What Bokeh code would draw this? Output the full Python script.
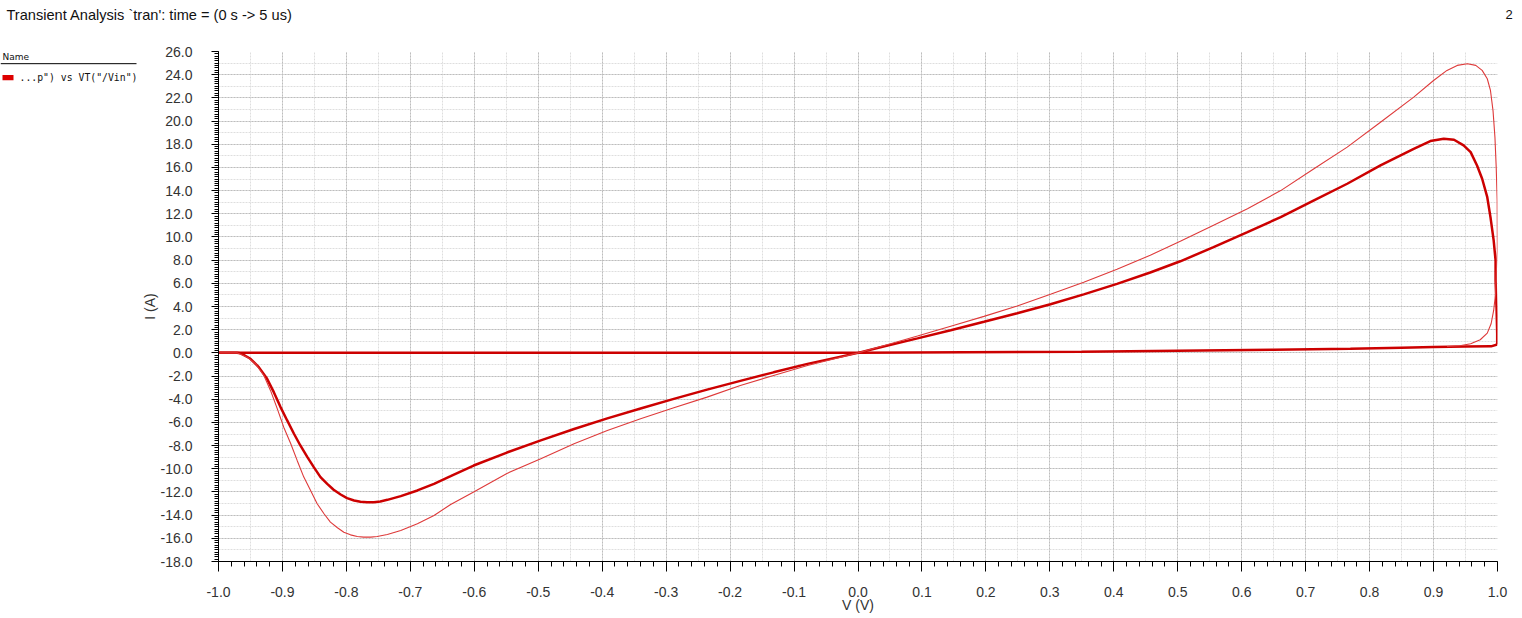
from bokeh.plotting import figure
from bokeh.layouts import column, row
from bokeh.models import FixedTicker, PrintfTickFormatter, Grid, Range1d
from bokeh.core.properties import value
from bokeh.embed import file_html
from bokeh.resources import INLINE

# ---------------- data ----------------
# off-state branch along the bottom (V, I)
base_v = [-1.0, -0.5, 0.0, 0.35, 0.5, 0.65, 0.77, 0.85, 0.90, 0.95, 0.99, 0.9995]
base_i = [0.0, 0.0, 0.02, 0.1, 0.18, 0.27, 0.35, 0.44, 0.5, 0.54, 0.56, 0.72]

# thick (dark) loop, from V=1 going up, round through the origin, to V=-1
thick_v = [0.9995, 0.9995, 0.9985, 0.997, 0.997, 0.994, 0.989, 0.984, 0.976, 0.968, 0.958,
           0.947, 0.932, 0.916, 0.895, 0.869, 0.817, 0.765, 0.713, 0.661, 0.609, 0.556,
           0.504, 0.457, 0.405, 0.353, 0.301, 0.249, 0.197, 0.145, 0.093, 0.040, 0.0,
           -0.079, -0.132, -0.184, -0.236, -0.288, -0.340, -0.392, -0.444, -0.496, -0.549,
           -0.601, -0.637, -0.663, -0.689, -0.715, -0.736, -0.747, -0.757, -0.7675, -0.778,
           -0.788, -0.799, -0.809, -0.820, -0.830, -0.8405, -0.851, -0.861, -0.872, -0.882,
           -0.8926, -0.903, -0.9135, -0.924, -0.937, -0.950, -0.9656, -0.971, -1.0]
thick_i = [0.72, 1.65, 3.94, 6.25, 7.97, 9.7, 11.71, 13.43, 15.02, 16.17, 17.32,
           17.9, 18.39, 18.47, 18.27, 17.6, 16.17, 14.59, 13.15, 11.71, 10.41, 9.12,
           7.9, 6.93, 5.95, 5.05, 4.2, 3.42, 2.68, 1.95, 1.25, 0.55, 0.0,
           -0.95, -1.68, -2.42, -3.17, -3.97, -4.8, -5.65, -6.57, -7.55, -8.6,
           -9.72, -10.64, -11.3, -11.87, -12.36, -12.68, -12.82, -12.88, -12.88, -12.85,
           -12.74, -12.53, -12.22, -11.81, -11.3, -10.72, -9.86, -9.0, -7.99, -6.98,
           -5.83, -4.68, -3.39, -2.24, -1.23, -0.51, -0.03, 0.0, 0.0]

# thin (light) loop, from V=-1 round through the origin to the bottom branch near V=1
thin_v = [-1.0, -0.971, -0.955, -0.942, -0.929, -0.9187, -0.908, -0.898, -0.887, -0.877,
          -0.8666, -0.856, -0.8457, -0.835, -0.825, -0.814, -0.804, -0.7936, -0.783, -0.773,
          -0.762, -0.752, -0.736, -0.715, -0.689, -0.663, -0.637, -0.601, -0.549, -0.496,
          -0.444, -0.392, -0.340, -0.288, -0.236, -0.184, -0.132, -0.079, 0.0, 0.040, 0.093,
          0.145, 0.197, 0.249, 0.301, 0.353, 0.405, 0.457, 0.504, 0.556, 0.609, 0.661, 0.713,
          0.765, 0.817, 0.869, 0.900, 0.921, 0.937, 0.953, 0.966, 0.976, 0.984, 0.989, 0.993,
          0.996, 0.998, 0.9995, 0.9998, 0.998, 0.997, 0.994, 0.990, 0.984, 0.973, 0.958,
          0.941, 0.921]
thin_i = [0.0, 0.0, -0.37, -0.94, -1.95, -3.24, -4.83, -6.41, -7.84, -9.28,
          -10.72, -11.87, -13.02, -13.88, -14.6, -15.09, -15.47, -15.7, -15.84, -15.9,
          -15.9, -15.84, -15.67, -15.32, -14.75, -14.03, -13.08, -12.0, -10.4, -9.14,
          -7.84, -6.7, -5.69, -4.74, -3.82, -2.81, -1.95, -1.09, 0.0, 0.62, 1.45,
          2.3, 3.15, 4.05, 5.05, 6.1, 7.22, 8.42, 9.62, 11.0, 12.43, 14.0, 15.88,
          17.75, 19.9, 22.06, 23.5, 24.37, 24.8, 24.94, 24.8, 24.37, 23.65, 22.64, 20.9,
          18.6, 16.0, 13.15, 8.8, 6.82, 5.1, 3.66, 2.51, 1.7, 1.13, 0.79,
          0.61, 0.55]

x_ticks = [round(-1.0 + 0.1 * k, 1) for k in range(21)]
x_minor = [round(-1.0 + 0.02 * k, 2) for k in range(101)]
x_grid_minor = [round(-1.0 + 0.05 * k, 2) for k in range(41)]
y_ticks = [float(v) for v in range(-18, 27, 2)]
y_minor = [round(-18 + 0.2 * k, 1) for k in range(221)]
y_grid_minor = [float(v) for v in range(-18, 27)]

title_text = "Transient Analysis `tran': time = (0 s -> 5 us)"
page_no = "2"
legend_head = "Name"
legend_text = '...p") vs VT("/Vin")'
x_label = "V (V)"
y_label = "I (A)"

RED = "#cc0000"
RED_THIN = "#de3a3a"
FONT = "Liberation Sans"


def blank(w, h, xr, yr):
    f = figure(width=w, height=h, output_backend="svg", toolbar_location=None,
               x_range=xr, y_range=yr, x_axis_type=None, y_axis_type=None,
               min_border=0)
    f.outline_line_color = None
    f.grid.visible = False
    return f


# ---------------- header (title + page number) ----------------
head = blank(1520, 30, Range1d(0, 1520), Range1d(30, 0))
head.text(x=[6], y=[14], text=[title_text], text_font=value(FONT), text_font_size="14.6px",
          text_baseline="middle", text_color="#111111")
head.text(x=[1505], y=[14], text=[page_no], text_font=value(FONT), text_font_size="13px",
          text_baseline="middle", text_color="#111111")

# ---------------- legend column ----------------
leg = blank(138, 586, Range1d(0, 138), Range1d(586, 0))
leg.text(x=[2], y=[6], text=[legend_head], text_font=value("DejaVu Sans"),
         text_font_size="9px", text_baseline="middle", text_color="#111111")
leg.segment(x0=[0], y0=[14], x1=[136], y1=[14], line_color="black", line_width=1)
leg.quad(left=[2], right=[13], top=[27], bottom=[33], fill_color="#dd0000", line_color=None)
leg.text(x=[19], y=[30], text=[legend_text], text_font=value("DejaVu Sans Mono"),
         text_font_size="9.8px", text_baseline="middle", text_color="#111111")

# ---------------- main plot ----------------
p = figure(width=1382, height=586, output_backend="svg", toolbar_location=None,
           x_range=Range1d(-1.0, 1.0), y_range=Range1d(-18.0, 26.0),
           min_border_left=80, min_border_right=23, min_border_top=21, min_border_bottom=55)
p.outline_line_color = None
p.grid.visible = False

p.add_layout(Grid(dimension=0, ticker=FixedTicker(ticks=x_grid_minor),
                  grid_line_color="#dedede", grid_line_dash="2 1"))
p.add_layout(Grid(dimension=1, ticker=FixedTicker(ticks=y_grid_minor),
                  grid_line_color="#dedede", grid_line_dash="2 1"))
p.add_layout(Grid(dimension=0, ticker=FixedTicker(ticks=x_ticks),
                  grid_line_color="#bdbdbd", grid_line_dash="2 1"))
p.add_layout(Grid(dimension=1, ticker=FixedTicker(ticks=y_ticks),
                  grid_line_color="#bdbdbd", grid_line_dash="2 1"))

p.xaxis.ticker = FixedTicker(ticks=x_ticks, minor_ticks=x_minor)
p.yaxis.ticker = FixedTicker(ticks=y_ticks, minor_ticks=y_minor)
p.xaxis.formatter = PrintfTickFormatter(format="%.1f")
p.yaxis.formatter = PrintfTickFormatter(format="%.1f")
for ax in (p.xaxis, p.yaxis):
    ax.axis_line_color = "black"
    ax.major_tick_line_color = "black"
    ax.minor_tick_line_color = "black"
    ax.major_tick_in = 0
    ax.minor_tick_in = 0
    ax.major_label_text_font = FONT
    ax.major_label_text_font_size = "14px"
    ax.major_label_text_color = "#333333"
    ax.axis_label_text_font = FONT
    ax.axis_label_text_font_size = "14px"
    ax.axis_label_text_font_style = "normal"
    ax.axis_label_text_color = "#333333"
p.xaxis.major_tick_out = 10
p.xaxis.minor_tick_out = 5
p.xaxis.major_label_standoff = 15
p.xaxis.axis_label = x_label
p.xaxis.axis_label_standoff = -3
p.yaxis.major_tick_out = 7
p.yaxis.minor_tick_out = 4
p.yaxis.major_label_standoff = 19
p.yaxis.axis_label = y_label
p.yaxis.axis_label_standoff = 0

p.line(base_v, base_i, line_color=RED, line_width=2.5)
p.line(thick_v, thick_i, line_color=RED, line_width=2.5)
p.line(thin_v, thin_i, line_color=RED_THIN, line_width=1.1)

layout = column(head, row(leg, p))
open("out.html", "w").write(file_html(layout, INLINE))
